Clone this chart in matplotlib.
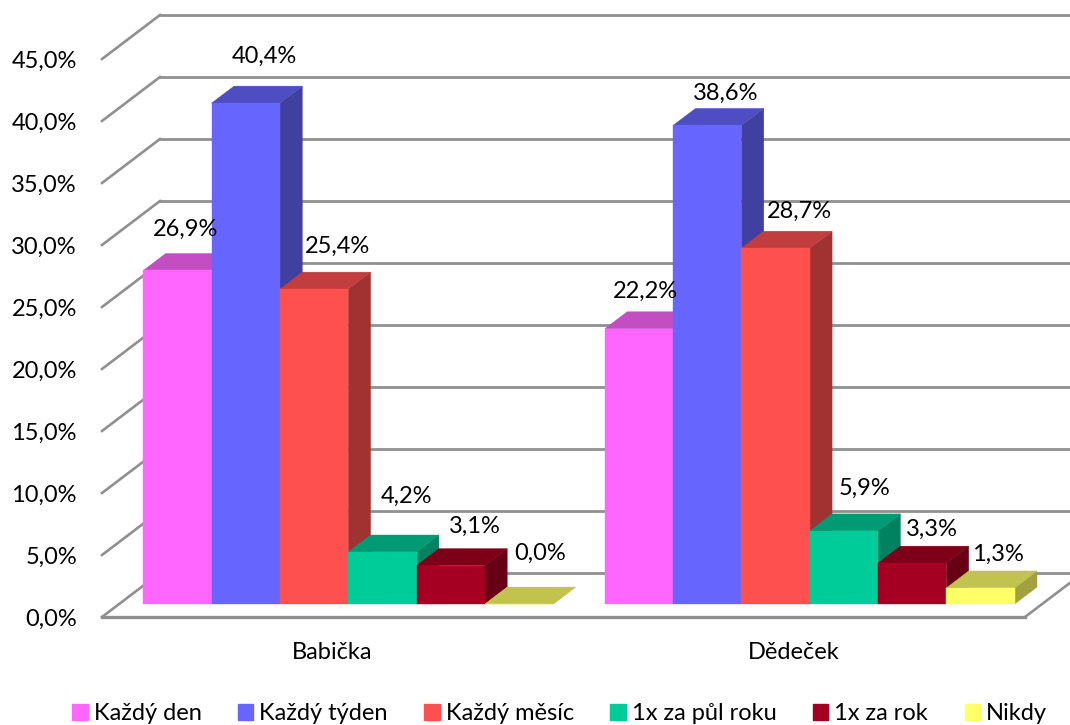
import matplotlib
matplotlib.use("Agg")
import matplotlib.pyplot as plt
from matplotlib.patches import Patch
from matplotlib.colors import to_rgb

plt.rcParams['font.family'] = ['Lato', 'DejaVu Sans']

categories = ['Babička', 'Dědeček']
series = ['Každý den', 'Každý týden', 'Každý měsíc', '1x za půl roku', '1x za rok', 'Nikdy']
babicka = [26.9, 40.4, 25.4, 4.2, 3.1, 0.0]
dedecek = [22.2, 38.6, 28.7, 5.9, 3.3, 1.3]
colors = ['#FF66FF', '#6666FF', '#FF5050', '#00CC99', '#A50021', '#FFFF66']
yticks = [0, 5, 10, 15, 20, 25, 30, 35, 40, 45]

# pixel offsets of the value labels, they were moved by hand in the original
label_offsets = [
    [(8, 41), (19, 47), (23, 43), (24, 56), (24, 39), (21, 51)],
    [(6, 37), (18, 32), (24, 37), (21, 43), (20, 34), (17, 34)],
]

GRID = '#909090'
FS = 17
bar_w = 0.148
# one unit of depth, in data units of the front plane
depth_x = 58 / 923 * 2
depth_y = 44 / 12.4
d0 = 0.295
d1 = 0.68


def shade(c, f):
    return tuple(v * f for v in to_rgb(c))


def pr(x, y, d):
    return x + d * depth_x, y + d * depth_y


def draw_bar(ax, x, val, c):
    p1 = pr(x, 0, d0)
    p2 = pr(x + bar_w, 0, d0)
    p3 = pr(x + bar_w, val, d0)
    p4 = pr(x, val, d0)
    q2 = pr(x + bar_w, 0, d1)
    q3 = pr(x + bar_w, val, d1)
    q4 = pr(x, val, d1)
    for pts, col in [([p2, q2, q3, p3], shade(c, 0.63)),
                     ([p4, p3, q3, q4], shade(c, 0.76)),
                     ([p1, p2, p3, p4], to_rgb(c))]:
        xs, ys = zip(*pts)
        ax.fill(xs, ys, color=col, lw=0.3, clip_on=False, zorder=3)


fig = plt.figure(figsize=(10.7, 7.25), dpi=100)
ax = fig.add_axes([102 / 1070, 108 / 725, 923 / 1070, 558 / 725])
ax.set_xlim(0, 2)
ax.set_ylim(0, 45)
for s in ax.spines.values():
    s.set_visible(False)

for t in yticks:
    x0, y0 = pr(0, t, 1)
    x1, y1 = pr(2, t, 1)
    ax.plot([0, x0], [t, y0], color=GRID, lw=1.9, clip_on=False, zorder=1)
    ax.plot([x0, x1], [y0, y1], color=GRID, lw=2.0, clip_on=False, zorder=1)
ax.plot([0, 2], [0, 0], color=GRID, lw=2.4, clip_on=False, zorder=2)
ex, ey = pr(2, 0, 1)
ax.plot([2, ex], [0, ey], color=GRID, lw=1.9, clip_on=False, zorder=2)

for g, vals in enumerate([babicka, dedecek]):
    start = g + 0.5 - 3 * bar_w - 0.0035
    for i, v in enumerate(vals):
        x = start + i * bar_w
        draw_bar(ax, x, v, colors[i])
        cx, cy = pr(x + bar_w / 2, v, d0)
        off = label_offsets[g][i]
        ax.annotate(f'{v:.1f}%'.replace('.', ','), (cx, cy), xytext=off,
                    textcoords='offset pixels', ha='center', va='center',
                    fontsize=FS, color='black', zorder=5, annotation_clip=False)

ax.set_yticks(yticks)
ax.set_yticklabels([f'{t:.1f}%'.replace('.', ',') for t in yticks], fontsize=FS)
ax.set_xticks([0.498, 1.498])
ax.set_xticklabels(categories, fontsize=FS)
ax.tick_params(axis='y', length=0, pad=18)
ax.tick_params(axis='x', length=0, pad=18)

handles = [Patch(color=c, label=s) for c, s in zip(colors, series)]
fig.legend(handles=handles, ncol=6, loc='lower center', bbox_to_anchor=(0.523, -0.025),
           frameon=False, fontsize=FS, handlelength=0.65, handleheight=0.65,
           handletextpad=0.25, columnspacing=1.55, borderpad=0.3)

fig.savefig('out.png', dpi=100)
